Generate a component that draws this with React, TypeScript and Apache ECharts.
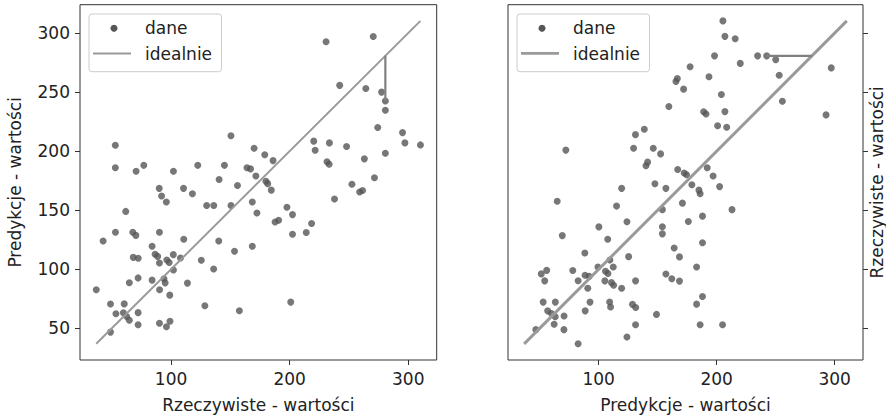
import React, { useEffect, useRef } from "react";
import * as echarts from "echarts";

// Real values (x on the left panel) and predictions (y on the left panel)
const actual = [
  53, 53, 70.5, 77, 90, 92, 96, 102, 110.5, 118, 122.5, 130, 136, 140.5, 145,
  150.5, 150.5, 156, 168.5, 170, 164, 167, 171.5, 179, 180, 181.5, 184.5, 186,
  197.7, 220.3, 221.5, 230.7, 231.5, 233.3, 233.5, 237.8, 242.2, 248, 252.5,
  259, 261.5, 263, 264.2, 270.5, 271.5, 274.3, 277.5, 280.7, 280.7, 280.7,
  295.2, 297.2, 310.3, 61.8, 172.4, 202.4, 42.7, 53.1, 67.7, 70.3, 90.2, 110.7,
  140.2, 187.7, 190.7, 218.5, 214, 202.4, 153.5, 168.5, 84, 86.5, 88.7, 101.9,
  107.9, 96.4, 90.2, 98.4, 68.1, 72.3, 125.5, 135.9, 102, 64.8, 72.2, 84, 94,
  95, 113.8, 90.3, 98.9, 36.9, 48.9, 60.5, 53.5, 59.8, 62.5, 64.8, 72.2, 72.2,
  48.9, 90.2, 96.1, 99.1, 128.5, 157.6, 200.9,
];
const predicted = [
  205, 186, 183, 188, 168.5, 162, 157, 183, 168.5, 164, 188, 154, 154, 176,
  188, 213, 154, 171, 157, 202.5, 186, 185, 179, 197, 174.5, 172.5, 167, 192,
  152.5, 208.5, 200.8, 292.7, 191, 189, 207, 159.5, 255.7, 204, 172, 165.5,
  166.7, 193.5, 253, 297.1, 177.5, 220, 250, 242.4, 234.7, 198.2, 215.7, 207,
  205.3, 149, 147.7, 146.3, 124, 131.3, 131.4, 128.7, 131.3, 125.4, 124, 140.1,
  141.5, 138.7, 131.2, 129.6, 115.2, 119.5, 119.5, 112.7, 110.9, 112.4, 109.5,
  107.9, 105.3, 105.8, 110.1, 109.3, 107.7, 100.2, 99.4, 88.6, 92.7, 90.8, 92,
  88.5, 88.3, 82.6, 78.1, 82.6, 70.6, 70.7, 62.3, 63.2, 60, 56.8, 63.3, 53,
  46.8, 54.3, 51.4, 56, 69.2, 64.9, 72.2,
];
const residualIndex = 47;
const yTickValues = [50, 100, 150, 200, 250, 300];
const xTickValues = [100, 200, 300];
const legendLabels = ["dane", "idealnie"];
const nameActual = "Rzeczywiste - wartości";
const namePredicted = "Predykcje - wartości";

const AX_MIN = 23.2;
const AX_MAX = 324;
const FONT = "DejaVu Sans";
const TEXT = "#222222";
const FRAME = "#333333";
const DOT = "#555555";
const IDEAL = "#9a9a9a";
const RESID = "#808080";

export default function App() {
  const ref = useRef<HTMLDivElement>(null);
  useEffect(() => {
    document.body.style.margin = "0";
    const chart = echarts.init(ref.current!, null, { renderer: "svg" });
    const mn = Math.min(...actual);
    const mx = Math.max(...actual);
    const ra = actual[residualIndex];
    const rp = predicted[residualIndex];

    const textStyle = { fontSize: 17, color: TEXT, fontFamily: FONT };
    const xAxisCfg = (gridIndex: number, name: string) => ({
      type: "value",
      gridIndex,
      min: AX_MIN,
      max: AX_MAX,
      name,
      nameLocation: "middle",
      nameGap: 36,
      nameTextStyle: textStyle,
      axisLine: { show: false },
      axisTick: {
        show: true,
        length: 5,
        lineStyle: { color: FRAME, width: 1 },
        customValues: xTickValues,
      },
      axisLabel: { ...textStyle, margin: 10, customValues: xTickValues },
      splitLine: { show: false },
    });

    const legendGraphic = (L: number, lineW: number) => ({
      type: "group",
      z: 100,
      children: [
        {
          type: "rect",
          shape: { x: L, y: 14, width: 132.5, height: 57.7, r: 3 },
          style: { fill: "rgba(255,255,255,0.8)", stroke: "#cccccc", lineWidth: 1 },
          z: 100,
        },
        {
          type: "circle",
          shape: { cx: L + 25, cy: 28.3, r: 3.5 },
          style: { fill: DOT },
          z: 101,
        },
        {
          type: "line",
          shape: { x1: L + 4, y1: 53.4, x2: L + 42, y2: 53.4 },
          style: { stroke: IDEAL, lineWidth: lineW },
          z: 101,
        },
        {
          type: "text",
          x: L + 56,
          y: 28.4,
          style: {
            text: legendLabels[0],
            fontSize: 17,
            fontFamily: FONT,
            fill: TEXT,
            verticalAlign: "middle",
            align: "left",
          },
          z: 101,
        },
        {
          type: "text",
          x: L + 56,
          y: 53.9,
          style: {
            text: legendLabels[1],
            fontSize: 17,
            fontFamily: FONT,
            fill: TEXT,
            verticalAlign: "middle",
            align: "left",
          },
          z: 101,
        },
      ],
    });

    const option: any = {
      animation: false,
      backgroundColor: "#ffffff",
      grid: [
        {
          left: 80,
          top: 4.7,
          width: 356.7,
          height: 357,
          show: true,
          borderColor: FRAME,
          borderWidth: 1,
          backgroundColor: "transparent",
        },
        {
          left: 508,
          top: 4.7,
          width: 357.3,
          height: 357,
          show: true,
          borderColor: FRAME,
          borderWidth: 1,
          backgroundColor: "transparent",
        },
      ],
      xAxis: [xAxisCfg(0, nameActual), xAxisCfg(1, namePredicted)],
      yAxis: [
        {
          type: "value",
          gridIndex: 0,
          position: "left",
          min: AX_MIN,
          max: AX_MAX,
          name: namePredicted,
          nameLocation: "middle",
          nameGap: 57,
          nameRotate: 90,
          nameTextStyle: textStyle,
          axisLine: { show: false },
          axisTick: {
            show: true,
            length: 5,
            lineStyle: { color: FRAME, width: 1 },
            customValues: yTickValues,
          },
          axisLabel: { ...textStyle, margin: 10, customValues: yTickValues },
          splitLine: { show: false },
        },
        {
          type: "value",
          gridIndex: 1,
          position: "right",
          min: AX_MIN,
          max: AX_MAX,
          name: nameActual,
          nameLocation: "middle",
          nameGap: 5,
          nameRotate: 90,
          nameTextStyle: textStyle,
          axisLine: { show: false },
          axisTick: {
            show: true,
            length: 5,
            lineStyle: { color: FRAME, width: 1 },
            customValues: yTickValues,
          },
          axisLabel: { show: false, customValues: yTickValues },
          splitLine: { show: false },
        },
      ],
      series: [
        {
          type: "scatter",
          name: legendLabels[0],
          xAxisIndex: 0,
          yAxisIndex: 0,
          data: actual.map((a, i) => [a, predicted[i]]),
          symbolSize: 7,
          itemStyle: { color: DOT },
          z: 2,
        },
        {
          type: "line",
          name: legendLabels[1],
          xAxisIndex: 0,
          yAxisIndex: 0,
          data: [
            [mn, mn],
            [mx, mx],
          ],
          symbol: "none",
          silent: true,
          lineStyle: { color: IDEAL, width: 2 },
          z: 3,
        },
        {
          type: "line",
          name: "residual",
          xAxisIndex: 0,
          yAxisIndex: 0,
          data: [
            [ra, ra],
            [ra, rp],
          ],
          symbol: "none",
          silent: true,
          lineStyle: { color: RESID, width: 2.2 },
          z: 3,
        },
        {
          type: "scatter",
          name: legendLabels[0],
          xAxisIndex: 1,
          yAxisIndex: 1,
          data: actual.map((a, i) => [predicted[i], a]),
          symbolSize: 7,
          itemStyle: { color: DOT },
          z: 2,
        },
        {
          type: "line",
          name: legendLabels[1],
          xAxisIndex: 1,
          yAxisIndex: 1,
          data: [
            [mn, mn],
            [mx, mx],
          ],
          symbol: "none",
          silent: true,
          lineStyle: { color: IDEAL, width: 3 },
          z: 3,
        },
        {
          type: "line",
          name: "residual",
          xAxisIndex: 1,
          yAxisIndex: 1,
          data: [
            [rp, ra],
            [ra, ra],
          ],
          symbol: "none",
          silent: true,
          lineStyle: { color: RESID, width: 2.2 },
          z: 3,
        },
      ],
      graphic: [legendGraphic(89, 2), legendGraphic(517, 2.7)],
    };
    chart.setOption(option);
    return () => chart.dispose();
  }, []);
  return <div ref={ref} style={{ width: 886, height: 418 }} />;
}
